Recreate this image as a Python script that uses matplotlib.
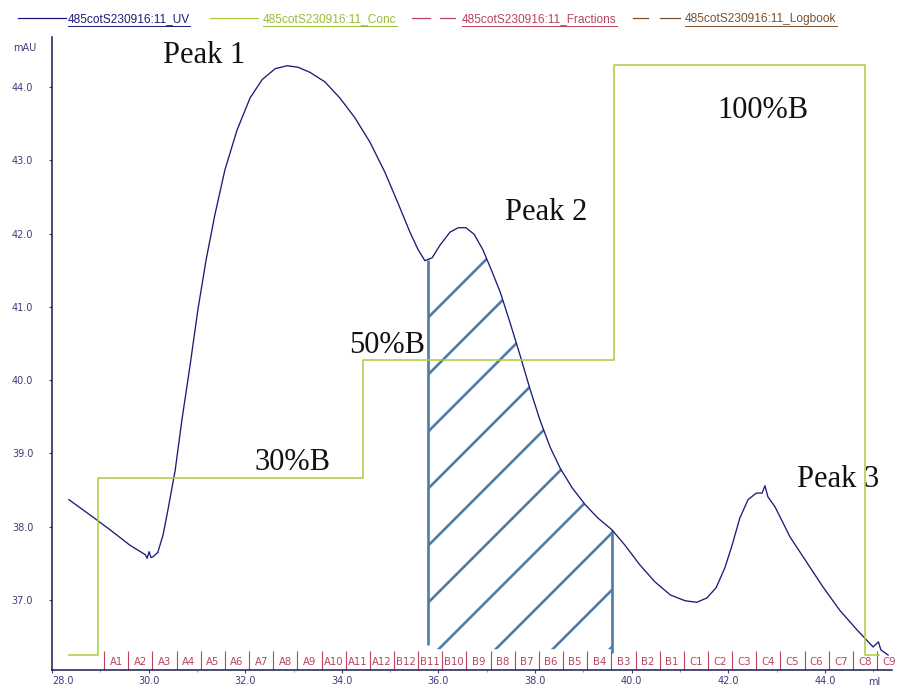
import numpy as np
import matplotlib
matplotlib.use('Agg')
import matplotlib.pyplot as plt
from matplotlib.lines import Line2D
from matplotlib.transforms import IdentityTransform

# UV trace (ml, mAU)
uv_ml = [28.35, 28.79, 29.20, 29.61, 29.93, 29.97, 30.01, 30.05, 30.09, 30.19, 30.30,
         30.40, 30.55, 30.69, 30.86, 31.02, 31.19, 31.37, 31.58, 31.83, 32.10, 32.35,
         32.62, 32.87, 33.09, 33.34, 33.65, 33.96, 34.27, 34.58, 34.89, 35.16, 35.41,
         35.58, 35.72, 35.87, 36.03, 36.24, 36.41, 36.57, 36.74, 36.92, 37.11, 37.28,
         37.48, 37.69, 37.90, 38.10, 38.31, 38.52, 38.77, 39.04, 39.30, 39.59, 39.86,
         40.17, 40.48, 40.80, 41.11, 41.35, 41.56, 41.75, 41.93, 42.08, 42.24, 42.41,
         42.58, 42.70, 42.76, 42.82, 42.97, 43.28, 43.63, 43.96, 44.31, 44.67, 45.00,
         45.11, 45.16, 45.31]
uv_mau = [38.37, 38.16, 37.96, 37.75, 37.62, 37.57, 37.66, 37.58, 37.59, 37.65, 37.89,
          38.23, 38.77, 39.46, 40.21, 40.96, 41.64, 42.25, 42.87, 43.41, 43.85, 44.10,
          44.25, 44.29, 44.27, 44.20, 44.07, 43.85, 43.58, 43.25, 42.84, 42.42, 42.02,
          41.78, 41.63, 41.67, 41.84, 42.02, 42.08, 42.08, 41.99, 41.78, 41.48, 41.20,
          40.79, 40.34, 39.87, 39.46, 39.09, 38.80, 38.53, 38.30, 38.12, 37.96, 37.75,
          37.48, 37.25, 37.07, 36.99, 36.97, 37.03, 37.17, 37.44, 37.75, 38.12, 38.37,
          38.46, 38.46, 38.56, 38.41, 38.27, 37.86, 37.51, 37.18, 36.86, 36.59, 36.36,
          36.43, 36.32, 36.25]

# gradient step profile (ml, %B)
conc_ml = [28.35, 28.96, 34.44, 39.64, 44.83, 45.12]
conc_pctb = [0, 30, 50, 100, 0, 0]

# fraction collector
frac_edges = [29.08, 29.58, 30.08, 30.58, 31.08, 31.58, 32.08, 32.58, 33.08, 33.58,
              34.08, 34.58, 35.08, 35.58, 36.08, 36.58, 37.08, 37.58, 38.08, 38.58,
              39.08, 39.58, 40.08, 40.58, 41.08, 41.58, 42.08, 42.58, 43.08, 43.58,
              44.08, 44.58, 45.08]
frac_labels = ['A1', 'A2', 'A3', 'A4', 'A5', 'A6', 'A7', 'A8', 'A9', 'A10', 'A11', 'A12',
               'B12', 'B11', 'B10', 'B9', 'B8', 'B7', 'B6', 'B5', 'B4', 'B3', 'B2', 'B1',
               'C1', 'C2', 'C3', 'C4', 'C5', 'C6', 'C7', 'C8', 'C9']

# pooled region
pool_start, pool_end = 35.78, 39.59

notes = ['Peak 1', 'Peak 2', 'Peak 3', '30%B', '50%B', '100%B']
note_xy = [(30.30, 44.33), (37.38, 42.19), (43.42, 38.54),
           (32.20, 38.77), (34.15, 40.37), (41.77, 43.58)]

legend_names = ['485cotS230916:11_UV', '485cotS230916:11_Conc',
                '485cotS230916:11_Fractions', '485cotS230916:11_Logbook']

navy = '#1c1c78'
green = '#a8cc40'
rose = '#b8445e'
steel = '#4f7ba6'
tickcol = '#3c3c7a'

W, H = 898, 686
fig = plt.figure(figsize=(W / 100, H / 100), dpi=100)
ax = fig.add_axes([52 / W, 16 / H, (892 - 52) / W, (670 - 37) / H])
ax.set_xlim(28.0, 45.39)
ax.set_ylim(36.046, 44.682)

for s in ['top', 'right']:
    ax.spines[s].set_visible(False)
for s in ['left', 'bottom']:
    ax.spines[s].set_color('#1a1a50')
    ax.spines[s].set_linewidth(1.1)

ax.set_yticks([37, 38, 39, 40, 41, 42, 43, 44])
ax.set_yticklabels(['%.1f' % v for v in ax.get_yticks()])
ax.set_xticks([28, 30, 32, 34, 36, 38, 40, 42, 44])
ax.set_xticklabels(['%.1f' % v for v in ax.get_xticks()])
ax.set_xticks([29, 31, 33, 35, 37, 39, 41, 43, 45], minor=True)
ax.tick_params(axis='both', labelsize=7, colors=tickcol, length=2.5, width=0.8)
ax.tick_params(axis='y', pad=11)
ax.tick_params(axis='x', pad=2)
ax.tick_params(axis='x', which='minor', length=1.5, width=0.6, colors='#8080a0')
ax.get_xticklabels()[0].set_horizontalalignment('left')

# gradient on its own hidden scale
ax2 = ax.twinx()
ax2.set_ylim(-2.54, 104.75)
ax2.axis('off')
ax2.step(conc_ml, conc_pctb, where='post', color=green, lw=1.1)

# UV trace
ax.plot(uv_ml, uv_mau, color=navy, lw=0.95, zorder=5)

# fractions along the bottom
ax.vlines(frac_edges, 36.046, 36.30, colors=rose, lw=0.8)
for i, lab in enumerate(frac_labels):
    ax.text(frac_edges[i] + 0.25, 36.15, lab, ha='center', va='center',
            fontsize=7.3, color=rose, clip_on=False)

# pooled fractions: outline and hand hatching
pool_floor = 36.33
xs = np.linspace(pool_start, pool_end, 200)
ys = np.interp(xs, uv_ml, uv_mau)
poly = ax.fill_between(xs, pool_floor, ys, facecolor='none', edgecolor='none')
clip = poly.get_paths()[0]
ax.plot([pool_start, pool_start], [36.39, np.interp(pool_start, uv_ml, uv_mau)],
        color=steel, lw=1.9, solid_capstyle='butt')
ax.plot([pool_end, pool_end], [36.28, np.interp(pool_end, uv_ml, uv_mau)],
        color=steel, lw=1.9, solid_capstyle='butt')
px_ml = ax.bbox.width / (45.39 - 28.0)
px_mau = ax.bbox.height / (44.682 - 36.046)
slope = px_ml / px_mau
for y0 in np.arange(40.85, 33.0, -0.778):
    hl, = ax.plot([pool_start, pool_end + 1], [y0, y0 + slope * (pool_end + 1 - pool_start)],
                  color=steel, lw=1.9, solid_capstyle='butt')
    hl.set_clip_path(clip, ax.transData)

# annotations
for t, (x, y) in zip(notes, note_xy):
    ax.text(x, y, t, fontsize=22, family='Liberation Serif', color='#111111',
            ha='left', va='baseline', zorder=6)

fig.text(13 / W, 1 - 48 / H, 'mAU', fontsize=7, color=tickcol, va='center', ha='left')
fig.text(874 / W, 1 - 682 / H, 'ml', fontsize=7, color=tickcol, va='center', ha='center')

# legend strip
leg_cols = [navy, '#9abb38', rose, '#7a5030']
leg_text_x = [68, 263, 462, 685]
leg_y = 1 - 18 / H
fig.add_artist(Line2D([18 / W, 66 / W], [leg_y, leg_y], color=navy, lw=0.9))
fig.add_artist(Line2D([210 / W, 258 / W], [leg_y, leg_y], color=green, lw=0.9))
for a, b in [(412, 430), (440, 455)]:
    fig.add_artist(Line2D([a / W, b / W], [leg_y, leg_y], color=rose, lw=0.9))
for a, b in [(633, 648), (660, 680)]:
    fig.add_artist(Line2D([a / W, b / W], [leg_y, leg_y], color='#7a5030', lw=0.9))
leg_texts = []
for name, c, x in zip(legend_names, leg_cols, leg_text_x):
    leg_texts.append(fig.text(x / W, 1 - 19 / H, name, fontsize=8.6, color=c,
                              family='Liberation Sans', ha='left', va='center'))

fig.canvas.draw()
r = fig.canvas.get_renderer()
for t, c in zip(leg_texts, leg_cols):
    bb = t.get_window_extent(r)
    fig.add_artist(Line2D([bb.x0, bb.x1], [bb.y0 - 1, bb.y0 - 1], color=c, lw=0.7,
                          transform=IdentityTransform()))

fig.savefig('out.png', dpi=100)
